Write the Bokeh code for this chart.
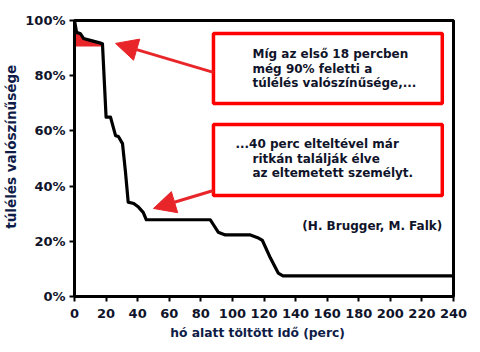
from bokeh.plotting import figure
from bokeh.models import Range1d, FixedTicker, Arrow, NormalHead
from bokeh.embed import file_html
from bokeh.resources import INLINE
from bokeh.core.properties import value

# survival curve (minutes, percent)
minutes = [0, 1.3, 3.8, 5.7, 10, 16.5, 17.7, 20, 22.8, 26, 27.8, 30.4, 32.3, 34,
           37.5, 40.5, 43.5, 45.5, 86, 88, 91, 95.5, 111.4, 116, 119, 124, 129,
           132, 240]
survival = [100, 95.7, 95.2, 93.5, 92.8, 91.8, 91.6, 65, 65, 58.3, 58, 55.4, 45,
            34.2, 33.7, 32.4, 30.5, 27.8, 27.8, 26, 23.3, 22.3, 22.3, 21.3, 20.3,
            14, 8.5, 7.5, 7.5]
shade_end = 7  # points within the first 18 minutes
shade_floor = 90.6

x_ticks = [0, 20, 40, 60, 80, 100, 120, 140, 160, 180, 200, 220, 240]
y_ticks = [0, 20, 40, 60, 80, 100]
y_tick_labels = ["0%", "20%", "40%", "60%", "80%", "100%"]

box1_lines = ["Míg az első 18 percben", "még 90% feletti a", "túlélés valószínűsége,..."]
box2_lines = ["...40 perc elteltével már", "ritkán találják élve", "az eltemetett személyt."]
citation = "(H. Brugger, M. Falk)"
x_title = "hó alatt töltött idő (perc)"
y_title = "túlélés valószínűsége"

FONT = "DejaVu Sans"
TXT = "#10142a"
NB = "\u00a0"

p = figure(width=480, height=352, output_backend="svg", toolbar_location=None,
           x_range=Range1d(0, 240), y_range=Range1d(0, 100),
           min_border_left=74, min_border_right=27, min_border_top=20,
           min_border_bottom=56)
p.grid.visible = False
p.background_fill_color = "white"
p.border_fill_color = "white"
p.outline_line_color = "black"
p.outline_line_width = 3

p.xaxis.ticker = FixedTicker(ticks=x_ticks)
p.yaxis.ticker = FixedTicker(ticks=y_ticks)
p.yaxis.major_label_overrides = {t: l for t, l in zip(y_ticks, y_tick_labels)}
for ax in (p.xaxis, p.yaxis):
    ax.axis_line_width = 3
    ax.axis_line_color = "black"
    ax.major_tick_line_width = 2
    ax.major_tick_line_color = "black"
    ax.major_tick_out = 5
    ax.major_tick_in = 0
    ax.minor_tick_line_color = None
    ax.major_label_text_font = FONT
    ax.major_label_text_font_style = "bold"
    ax.major_label_text_font_size = "13px"
    ax.major_label_text_color = TXT
    ax.axis_label_text_font = FONT
    ax.axis_label_text_font_style = "bold"
    ax.axis_label_text_color = "#101c48"
p.xaxis.axis_label = x_title + NB * 3
p.yaxis.axis_label = NB * 5 + y_title
p.xaxis.axis_label_text_font_size = "12.3px"
p.yaxis.axis_label_text_font_size = "13.5px"
p.xaxis.major_label_standoff = 7
p.yaxis.major_label_standoff = 4
p.xaxis.axis_label_standoff = 5
p.yaxis.axis_label_standoff = 3

# red shading under the first part of the curve
p.varea(x=minutes[:shade_end], y1=[shade_floor] * shade_end, y2=survival[:shade_end],
        fill_color="#e8262a", fill_alpha=1)

p.line(minutes, survival, line_color="black", line_width=3.2, line_join="round")

# annotation boxes
box_left, box_right = 88, 232.9
p.quad(left=[box_left, box_left], right=[box_right, box_right],
       bottom=[69.9, 36.6], top=[95.3, 62.3],
       fill_color="white", line_color="#ff0000", line_width=3.5)

# arrows
for (x0, y0, x1, y1) in [(88, 81.2, 26, 91.7), (88, 38.4, 50, 31.9)]:
    p.add_layout(Arrow(x_start=x0, y_start=y0, x_end=x1, y_end=y1,
                       line_color="#e8262a", line_width=3,
                       end=NormalHead(size=22, fill_color="#e8262a",
                                      line_color="#e8262a", line_width=1)))

# box texts
p.text(x=[112.7] * 3, y=[88.0, 82.6, 77.2], text=box1_lines,
       text_font=value(FONT), text_font_style="bold", text_font_size="12px",
       text_color=TXT, text_baseline="middle", text_align="left")
p.text(x=[101.9, 112.7, 112.7], y=[55.4, 50.0, 44.6], text=box2_lines,
       text_font=value(FONT), text_font_style="bold", text_font_size="12px",
       text_color=TXT, text_baseline="middle", text_align="left")
p.text(x=[232.9], y=[25.7], text=[citation],
       text_font=value(FONT), text_font_style="bold", text_font_size="12px",
       text_color=TXT, text_baseline="middle", text_align="right")

open("out.html", "w").write(file_html(p, INLINE))
